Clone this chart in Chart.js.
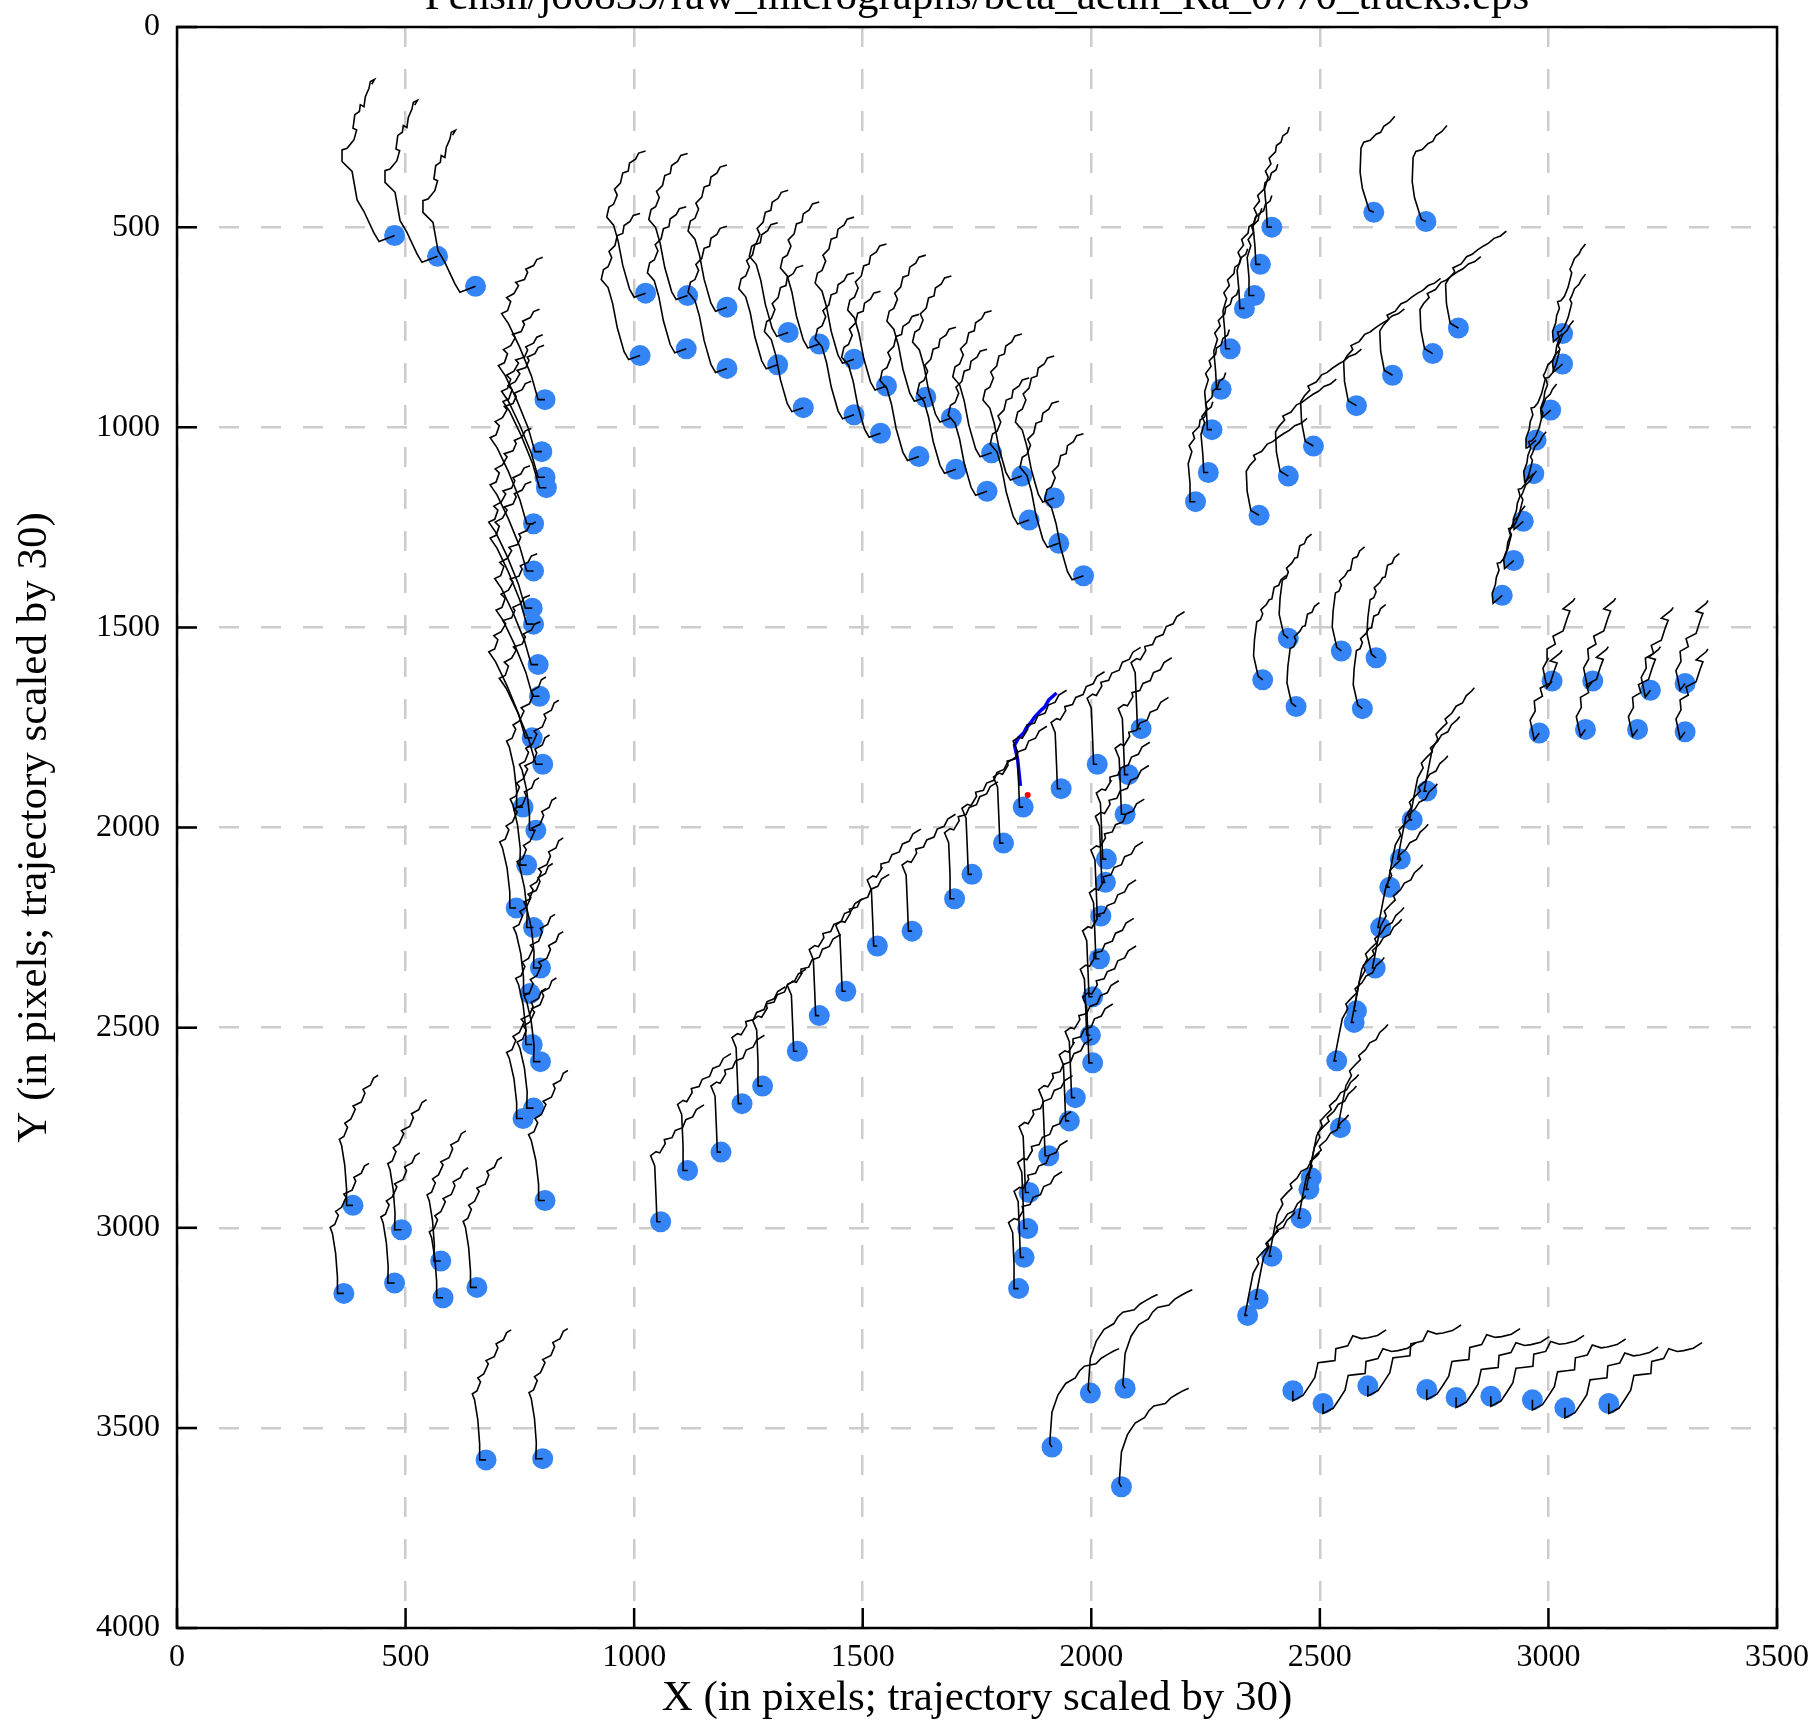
<!DOCTYPE html>
<html>
<head>
<meta charset="utf-8">
<script src="https://cdn.jsdelivr.net/npm/chart.js@4.4.0/dist/chart.umd.min.js"></script>
<style>
  html, body { margin: 0; padding: 0; background: #fff; }
  #chart { display: block; }
</style>
</head>
<body>
<canvas id="chart" width="1815" height="1727"></canvas>
<script>
const chartTitle = "Pcnsh/jo0839/raw_micrographs/beta_actin_Ra_0770_tracks.eps";
const xLabel = "X (in pixels; trajectory scaled by 30)";
const yLabel = "Y (in pixels; trajectory scaled by 30)";
const xTicks = [0, 500, 1000, 1500, 2000, 2500, 3000, 3500];
const yTicks = [0, 500, 1000, 1500, 2000, 2500, 3000, 3500, 4000];

// particle positions [x, y]
const groupA = [[476,521],[570,573],[653,648]];
const groupB = [[1025,665],[1117,671],[1203,700],[1013,821],[1114,804],[1203,853],[1337,763],[1314,844],[1405,792],[1370,951],[1481,830],[1481,969],[1552,897],[1539,1015],[1638,925],[1623,1073],[1694,977],[1704,1105],[1782,1064],[1772,1160],[1848,1122],[1919,1177],[1864,1232],[1929,1290],[1983,1371]];
const groupC1 = [[805,931],[798,1061],[805,1125],[808,1151],[780,1241],[780,1359],[777,1452],[780,1492],[790,1593],[793,1672],[777,1776],[800,1842]];
const groupC2 = [[757,1949],[785,2007],[765,2094],[742,2201],[780,2250],[795,2351],[772,2415],[777,2542],[795,2585],[757,2727],[780,2701],[805,2932]];
const groupD = [[385,2944],[491,3005],[577,3083],[365,3164],[476,3138],[582,3175],[656,3149],[676,3580],[800,3577]];
const groupF = [[1058,2985],[1117,2857],[1190,2811],[1236,2690],[1281,2646],[1357,2559],[1405,2470],[1463,2409],[1532,2296],[1608,2259],[1701,2178],[1739,2117],[1808,2039],[1851,1949],[1934,1903]];
const groupG = [[1841,3152],[1853,3074],[1861,3002],[1864,2912],[1907,2820],[1952,2733],[1965,2675],[2003,2588],[1998,2519],[2003,2423],[2018,2328],[2021,2221],[2031,2137],[2033,2079],[2074,1967],[2081,1868],[2109,1753],[2013,1842]];
const groupH = [[2342,3219],[2365,3178],[2395,3071],[2459,2976],[2476,2904],[2481,2875],[2545,2750],[2537,2583],[2575,2487],[2580,2458],[2621,2351],[2633,2250],[2653,2149],[2676,2079],[2702,1981],[2734,1909]];
const groupI = [[2228,1186],[2256,1113],[2264,1006],[2284,905],[2304,804],[2335,703],[2357,671],[2370,593],[2395,500]];
const groupJ = [[2618,463],[2732,486]];
const groupK = [[2367,1220],[2431,1122],[2486,1047],[2580,946],[2659,870],[2747,816],[2803,752]];
const groupL = [[2899,1420],[2924,1333],[2945,1235],[2968,1116],[2973,1032],[3005,957],[3031,842],[3031,766]];
const groupM = [[2431,1527],[2547,1559],[2623,1576],[2375,1631],[2448,1698],[2593,1703]];
const groupN = [[3008,1634],[3097,1634],[3223,1657],[3299,1640],[2980,1764],[3081,1755],[3195,1755],[3299,1761]];
const groupO = [[1998,3413],[2074,3401],[1914,3548],[2066,3647]];
const groupP = [[2441,3407],[2507,3439],[2605,3395],[2734,3404],[2798,3424],[2874,3421],[2965,3430],[3036,3450],[3132,3439]];

// track shapes per group, offsets from the particle (already scaled by 30)
const shapeA = [[0,0],[-34,15],[-45,-6],[-67,-60],[-82,-89],[-93,-160],[-115,-185],[-115,-214],[-104,-218],[-89,-239],[-83,-264],[-91,-268],[-87,-302],[-77,-310],[-75,-327],[-67,-322],[-64,-347],[-56,-368],[-53,-385],[-44,-390],[-50,-378]];
const shapeB = [[0,0],[-25,10],[-35,-10],[-50,-70],[-60,-130],[-70,-170],[-85,-190],[-80,-215],[-70,-222],[-62,-245],[-68,-260],[-55,-275],[-50,-300],[-38,-305],[-35,-325],[-22,-335],[-15,-350],[0,-355]];
const shapeC1 = [[0,0],[-15,0],[-30,-60],[-55,-130],[-80,-190],[-95,-215],[-82,-222],[-75,-245],[-84,-255],[-68,-265],[-58,-285],[-64,-293],[-45,-300],[-38,-318],[-42,-326],[-25,-335],[-18,-350],[-5,-356]];
const shapeC2 = [[0,0],[-15,0],[-14,-40],[-20,-100],[-30,-150],[-36,-165],[-24,-172],[-16,-195],[-22,-205],[-8,-215],[2,-240],[-4,-248],[14,-258],[22,-280],[18,-290],[34,-300],[40,-318],[50,-325]];
const shapeD = [[0,0],[-15,0],[-14,-40],[-18,-100],[-25,-150],[-30,-165],[-20,-172],[-12,-195],[-18,-205],[-5,-215],[5,-240],[0,-248],[18,-258],[26,-280],[22,-290],[38,-300],[45,-318],[55,-325]];
const shapeF = [[0,0],[-8,0],[-10,-60],[-13,-140],[-22,-165],[-10,-175],[-2,-172],[10,-195],[8,-205],[25,-210],[32,-228],[48,-235],[55,-255],[70,-262],[78,-280],[95,-292]];
const shapeH = [[0,0],[-6,0],[0,-35],[5,-65],[12,-105],[24,-130],[20,-142],[33,-158],[44,-170],[40,-180],[55,-195],[64,-212],[78,-220],[86,-238],[98,-250],[104,-258]];
const shapeI = [[0,0],[-10,0],[-12,-45],[-16,-95],[-8,-125],[-14,-140],[-2,-158],[-6,-172],[8,-188],[10,-204],[20,-212],[24,-228],[34,-236],[38,-250]];
const shapeJ = [[0,0],[-10,-5],[-25,-60],[-30,-100],[-28,-160],[-22,-175],[-8,-180],[5,-195],[15,-200],[22,-215],[35,-225],[46,-240]];
const shapeK = [[0,0],[-18,-12],[-26,-60],[-28,-110],[-20,-125],[-8,-140],[-12,-150],[6,-160],[18,-178],[30,-184],[42,-195],[55,-205],[66,-212],[78,-224],[92,-230],[105,-242]];
const shapeL = [[0,0],[-20,20],[-22,-5],[-15,-27],[-13,-45],[-7,-63],[-11,-80],[-4,-82],[4,-93],[12,-116],[20,-152],[16,-161],[20,-170],[26,-188],[36,-199],[41,-211],[50,-224]];
const shapeM = [[0,0],[-10,-9],[-20,-60],[-18,-100],[-13,-145],[-5,-150],[0,-165],[-4,-175],[8,-188],[14,-200],[20,-202],[25,-231],[35,-236],[40,-250],[51,-260]];
const shapeN = [[0,0],[-11,17],[-20,-32],[-9,-55],[-11,-80],[7,-92],[2,-112],[24,-125],[33,-157],[39,-175],[24,-180],[46,-200],[50,-207]];
const shapeO = [[0,0],[-5,-9],[0,-87],[13,-130],[30,-159],[51,-173],[60,-190],[71,-202],[96,-208],[108,-222],[121,-231],[135,-240],[147,-246]];
const shapeP = [[0,0],[0,25],[22,12],[35,-10],[48,-33],[55,-70],[70,-72],[92,-75],[94,-105],[120,-112],[131,-137],[150,-130],[164,-132],[185,-138],[204,-152]];

// highlighted track and its end point
const blueX = [1845,1839,1832,1841,1852,1858,1869,1876,1891,1898,1907,1924];
const blueY = [1896,1831,1794,1776,1764,1751,1736,1724,1706,1699,1681,1664];
const redPoint = [1861,1919];

const groups = [
    [groupA, shapeA], [groupB, shapeB], [groupC1, shapeC1], [groupC2, shapeC2],
    [groupD, shapeD], [groupF, shapeF], [groupG, shapeF], [groupH, shapeH],
    [groupI, shapeI], [groupJ, shapeJ], [groupK, shapeK], [groupL, shapeL],
    [groupM, shapeM], [groupN, shapeN], [groupO, shapeO], [groupP, shapeP]
];

const datasets = [];
const dots = [];

groups.forEach(([pts, shape]) => {
    pts.forEach(p => {
        dots.push({ x: p[0], y: p[1] });
        datasets.push({
            data: shape.map(d => ({ x: p[0] + d[0], y: p[1] + d[1] })),
            showLine: true,
            borderColor: '#000',
            borderWidth: 1.6,
            pointRadius: 0,
            order: 0
        });
    });
});

datasets.push({
    data: blueX.map((v, i) => ({ x: v, y: blueY[i] })),
    showLine: true,
    borderColor: '#0000ff',
    borderWidth: 3.5,
    pointRadius: 0,
    order: 0
});

datasets.push({
    data: [{ x: redPoint[0], y: redPoint[1] }],
    pointRadius: 3,
    pointBackgroundColor: '#ff0000',
    pointBorderWidth: 0,
    order: 0
});

datasets.push({
    data: dots,
    pointRadius: 10.5,
    pointBackgroundColor: '#3584f5',
    pointBorderWidth: 0,
    order: 1
});

const framePlugin = {
    id: 'frame',
    afterDraw(chart) {
        const { ctx, chartArea: a, scales: { x, y } } = chart;
        ctx.save();
        ctx.strokeStyle = '#000';
        ctx.lineWidth = 2.5;
        ctx.strokeRect(a.left, a.top, a.right - a.left, a.bottom - a.top);
        ctx.beginPath();
        xTicks.forEach(v => {
            const px = x.getPixelForValue(v);
            ctx.moveTo(px, a.bottom);
            ctx.lineTo(px, a.bottom - 20);
        });
        yTicks.forEach(v => {
            const py = y.getPixelForValue(v);
            ctx.moveTo(a.left, py);
            ctx.lineTo(a.left + 20, py);
        });
        ctx.stroke();

        ctx.fillStyle = '#000';
        ctx.textAlign = 'center';
        ctx.font = '43px "Liberation Serif"';
        ctx.textBaseline = 'alphabetic';
        ctx.fillText(chartTitle, (a.left + a.right) / 2, 9);
        ctx.textBaseline = 'middle';
        ctx.fillText(xLabel, (a.left + a.right) / 2, 1699);
        ctx.translate(35, (a.top + a.bottom) / 2);
        ctx.rotate(-Math.PI / 2);
        ctx.fillText(yLabel, 0, 0);
        ctx.restore();
    }
};

const tickFont = { family: 'Liberation Serif', size: 32 };

new Chart(document.getElementById('chart'), {
    type: 'scatter',
    data: { datasets: datasets },
    options: {
        responsive: false,
        animation: false,
        devicePixelRatio: 1,
        layout: { padding: { top: 27, right: 38, left: 0, bottom: 0 } },
        plugins: { legend: { display: false }, tooltip: { enabled: false } },
        scales: {
            x: {
                type: 'linear',
                position: 'bottom',
                min: 0,
                max: 3500,
                afterBuildTicks: s => { s.ticks = xTicks.map(v => ({ value: v })); },
                afterFit: s => {
                    s.height = 99;
                    s.paddingLeft = 0;
                    s.paddingRight = 0;
                },
                ticks: { font: tickFont, color: '#000', padding: 10, maxRotation: 0, callback: v => String(v) },
                grid: { color: '#cccccc', lineWidth: 2.5, drawTicks: false },
                border: { display: false, dash: [20, 22] }
            },
            y: {
                type: 'linear',
                reverse: true,
                min: 0,
                max: 4000,
                afterBuildTicks: s => { s.ticks = yTicks.map(v => ({ value: v })); },
                afterFit: s => {
                    s.width = 177;
                    s.paddingTop = 0;
                    s.paddingBottom = 0;
                },
                ticks: { font: tickFont, color: '#000', padding: 17, callback: v => String(v) },
                grid: { color: '#cccccc', lineWidth: 2.5, drawTicks: false },
                border: { display: false, dash: [20, 22] }
            }
        }
    },
    plugins: [framePlugin]
});
</script>
</body>
</html>
